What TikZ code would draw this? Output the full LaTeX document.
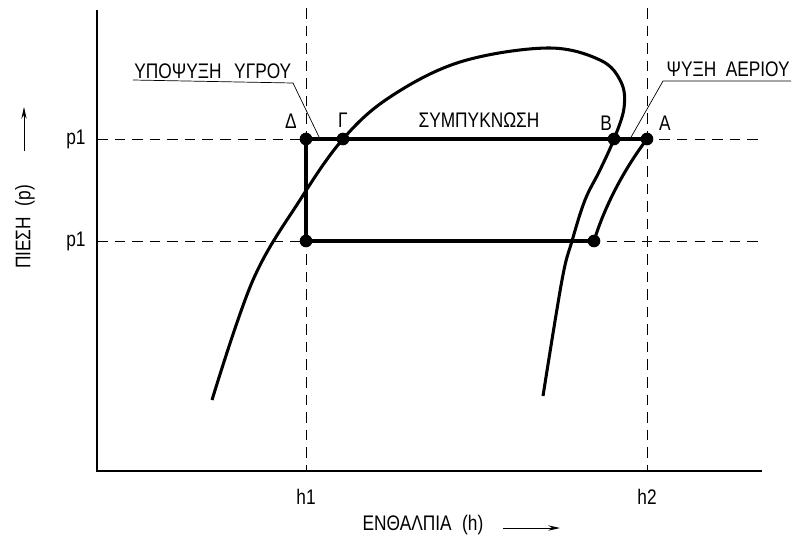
\documentclass[tikz,border=0pt]{standalone}
\usepackage{fontspec}
\setmainfont[FakeStretch=0.82]{Liberation Sans}
\usetikzlibrary{positioning,arrows.meta}

\begin{document}
\begin{tikzpicture}[x=0.03cm,y=-0.03cm]
    \tikzstyle{axis} = [draw, line width=1.6pt]
    \tikzstyle{guide} = [draw, line width=0.7pt, dash pattern=on 9pt off 6pt]
    \tikzstyle{cycleline} = [draw, line width=2.6pt]
    \tikzstyle{state} = [circle, fill, inner sep=0pt, minimum size=0.38cm]
    \tikzstyle{lbl} = [font=\fontsize{18}{21}\selectfont, inner sep=1pt]
    \tikzstyle{leader} = [draw, line width=0.6pt]

    \useasboundingbox (0,0) rectangle (793,547);

    % axes
    \coordinate (O) at (97,471);
    \coordinate (ytop) at (97,10);
    \coordinate (xend) at (762,471);
    \path [axis] (ytop) -- (O) -- (xend);

    % guide lines
    \coordinate (h1top) at (306,8);
    \coordinate (h1bot) at (306,471);
    \coordinate (h2top) at (647,8);
    \coordinate (h2bot) at (647,471);
    \coordinate (pHleft) at (97,139);
    \coordinate (pHright) at (758,139);
    \coordinate (pLleft) at (97,241);
    \coordinate (pLright) at (758,241);
    \path [guide] (h1top) -- (h1bot);
    \path [guide] (h2top) -- (h2bot);
    \path [guide] (pHleft) -- (pHright);
    \path [guide] (pLleft) -- (pLright);

    % states
    \node [state] (D) at (306,139) {};
    \node [state] (G) at (343,139) {};
    \node [state] (B) at (614,139) {};
    \node [state] (A) at (647,139) {};
    \node [state] (L) at (306,241) {};
    \node [state] (R) at (594,241) {};

    % saturation dome
    \draw [line width=2.6pt] plot [smooth, tension=0.6] coordinates {
        (212,400) (253,280) (300,200) (G.center) (390,97) (460,62)
        (547,48) (600,60) (621,82) (624,108) (B.center) (600,170)
        (585,200) (572,241) (562,280) (543,396)};

    % cycle
    \path [cycleline] (D.center) -- (A.center);
    \path [cycleline] (D.center) -- (L.center) -- (R.center);
    \draw [line width=2.6pt] (A.center) .. controls (625,168) and (605,205) .. (R.center);

    % point labels
    \node [lbl, above left=0.12cm and 0.1cm of D] (Dl) {Δ};
    \node [lbl, above=0.1cm of G] (Gl) {Γ};
    \node [lbl, above left=0.06cm and -0.12cm of B] (Bl) {B};
    \node [lbl, above right=0.06cm and 0.18cm of A] (Al) {A};
    \node [lbl, anchor=south] (cond) at (479,129) {ΣΥΜΠΥΚΝΩΣΗ};

    % leader labels
    \node [lbl, anchor=south west] (subcool) at (133,80) {ΥΠΟΨΥΞΗ\hspace{0.6em}ΥΓΡΟΥ};
    \coordinate (subknee) at (293,83);
    \coordinate (subtip) at (320,139);
    \path [leader] (subcool.south west) -- (subknee) -- (subtip);
    \node [lbl, anchor=south east] (desup) at (791,78) {ΨΥΞΗ\hspace{0.45em}ΑΕΡΙΟΥ};
    \coordinate (desknee) at (663,81);
    \coordinate (desend) at (791,81);
    \coordinate (destip) at (630,139);
    \path [leader] (desend) -- (desknee) -- (destip);

    % axis labels
    \node [lbl, left=0.3cm of pHleft] (p1a) {p1};
    \node [lbl, left=0.3cm of pLleft] (p1b) {p1};
    \node [lbl, below=0.5cm of h1bot] (h1) {h1};
    \node [lbl, below=0.5cm of h2bot] (h2) {h2};
    \node [lbl] (xlab) at (423,525) {ΕΝΘΑΛΠΙΑ\hspace{0.5em}(h)};
    \coordinate (xarr1) at (503,528);
    \coordinate (xarr2) at (560,528);
    \draw [line width=0.8pt, -{Stealth[length=10pt,width=4.5pt]}] (xarr1) -- (xarr2);
    \node [lbl, rotate=90] (ylab) at (25,227) {ΠΙΕΣΗ\hspace{0.5em}(p)};
    \coordinate (yarr1) at (24,151);
    \coordinate (yarr2) at (24,107);
    \draw [line width=0.8pt, -{Stealth[length=10pt,width=4.5pt]}] (yarr1) -- (yarr2);

\end{tikzpicture}
\end{document}
